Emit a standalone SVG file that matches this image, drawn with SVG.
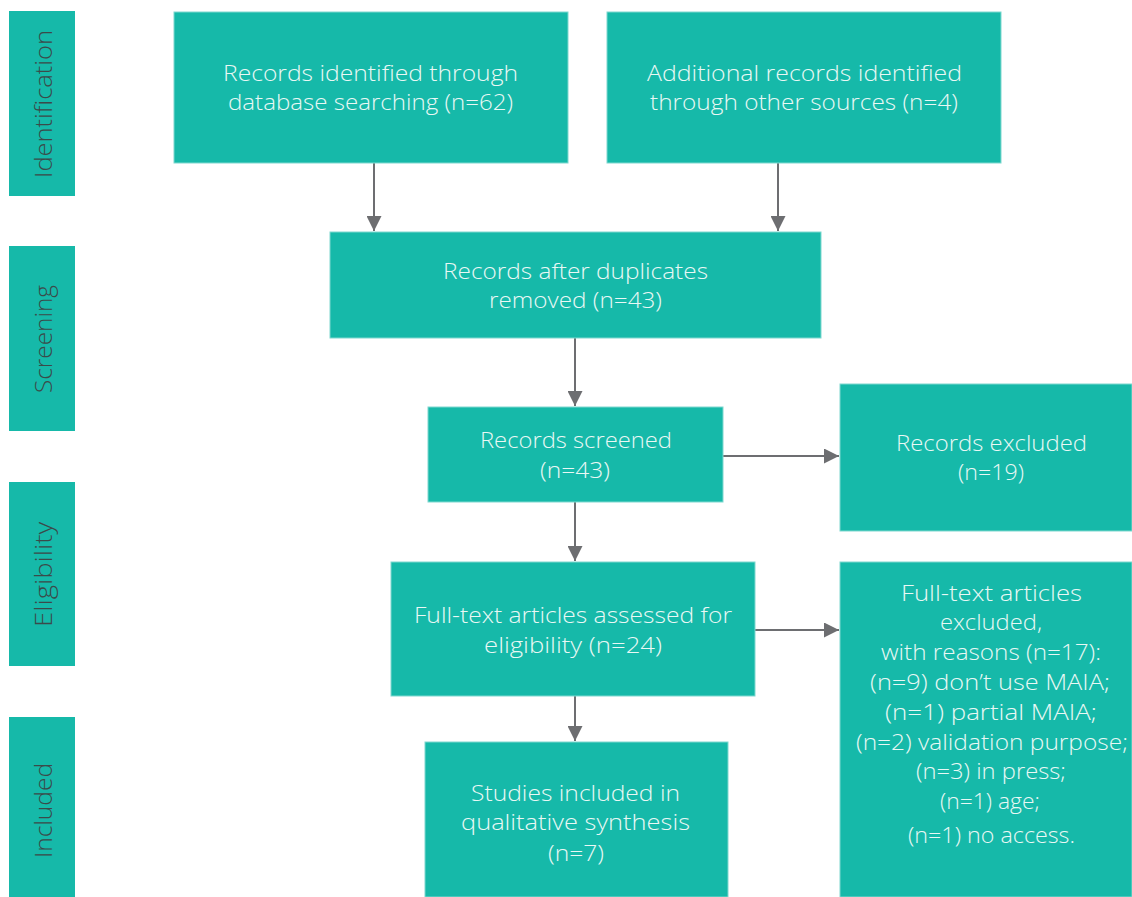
<svg xmlns="http://www.w3.org/2000/svg" width="1132" height="897" viewBox="0 0 1132 897">
<defs>
<style>
.box{fill:#16b9a9;stroke:#7fd8cf;stroke-width:1}
.lab{fill:#16b9a9}
.t{font-family:"Open Sans",Roboto,"Liberation Sans",sans-serif;font-weight:300;font-size:22px;fill:#e9f8f5;text-anchor:middle}
.v{font-family:"Open Sans",Roboto,"Liberation Sans",sans-serif;font-weight:300;font-size:23px;fill:#3b4a4a;text-anchor:middle}
.c{stroke:#6d6e71;stroke-width:2;fill:none;marker-end:url(#ah)}
</style>
<marker id="ah" viewBox="0 0 10 10" refX="10" refY="5" markerWidth="7.5" markerHeight="7.5" markerUnits="strokeWidth" orient="auto">
<path d="M0,0 L10,5 L0,10 z" fill="#6d6e71"/>
</marker>
</defs>
<rect width="1132" height="897" fill="#ffffff"/>
<g id="stage-identification"><rect class="lab" x="9" y="11" width="66" height="185"/><text class="v" transform="translate(52,104) rotate(-90)" textLength="148" lengthAdjust="spacingAndGlyphs">Identification</text></g>
<g id="stage-screening"><rect class="lab" x="9" y="246" width="66" height="185"/><text class="v" transform="translate(52,339) rotate(-90)" textLength="108" lengthAdjust="spacingAndGlyphs">Screening</text></g>
<g id="stage-eligibility"><rect class="lab" x="9" y="482" width="66" height="184"/><text class="v" transform="translate(52,574.5) rotate(-90)" textLength="105" lengthAdjust="spacingAndGlyphs">Eligibility</text></g>
<g id="stage-included"><rect class="lab" x="9" y="717" width="66" height="180"/><text class="v" transform="translate(52,810.5) rotate(-90)" textLength="95" lengthAdjust="spacingAndGlyphs">Included</text></g>
<g id="connectors">
<line class="c" x1="374" y1="163" x2="374" y2="231"/>
<line class="c" x1="778" y1="163" x2="778" y2="231"/>
<line class="c" x1="575" y1="338" x2="575" y2="406"/>
<line class="c" x1="723" y1="456" x2="839" y2="456"/>
<line class="c" x1="575" y1="502" x2="575" y2="561"/>
<line class="c" x1="755" y1="630" x2="839" y2="630"/>
<line class="c" x1="575" y1="696" x2="575" y2="741"/>
</g>
<g id="n1"><rect class="box" x="174" y="12" width="394" height="151"/><text class="t" x="370.5" y="81" textLength="295" lengthAdjust="spacingAndGlyphs">Records identified through</text><text class="t" x="370.5" y="110" textLength="285" lengthAdjust="spacingAndGlyphs">database searching (n=62)</text></g>
<g id="n2"><rect class="box" x="607" y="12" width="394" height="151"/><text class="t" x="804.5" y="81" textLength="315" lengthAdjust="spacingAndGlyphs">Additional records identified</text><text class="t" x="804" y="110" textLength="308" lengthAdjust="spacingAndGlyphs">through other sources (n=4)</text></g>
<g id="n3"><rect class="box" x="330" y="232" width="491" height="106"/><text class="t" x="575.5" y="279" textLength="265" lengthAdjust="spacingAndGlyphs">Records after duplicates</text><text class="t" x="575.5" y="308" textLength="173" lengthAdjust="spacingAndGlyphs">removed (n=43)</text></g>
<g id="n4"><rect class="box" x="428" y="407" width="295" height="95"/><text class="t" x="576" y="448" textLength="192" lengthAdjust="spacingAndGlyphs">Records screened</text><text class="t" x="575" y="478" textLength="70" lengthAdjust="spacingAndGlyphs">(n=43)</text></g>
<g id="n5"><rect class="box" x="840" y="384" width="292" height="147"/><text class="t" x="991.5" y="451" textLength="191" lengthAdjust="spacingAndGlyphs">Records excluded</text><text class="t" x="991" y="480" textLength="66" lengthAdjust="spacingAndGlyphs">(n=19)</text></g>
<g id="n6"><rect class="box" x="391" y="562" width="364" height="134"/><text class="t" x="573" y="623" textLength="318" lengthAdjust="spacingAndGlyphs">Full-text articles assessed for</text><text class="t" x="573" y="653" textLength="178" lengthAdjust="spacingAndGlyphs">eligibility (n=24)</text></g>
<g id="n7"><rect class="box" x="840" y="562" width="292" height="335"/>
<text class="t" x="991.5" y="601" textLength="181" lengthAdjust="spacingAndGlyphs">Full-text articles</text>
<text class="t" x="991" y="630" textLength="102" lengthAdjust="spacingAndGlyphs">excluded,</text>
<text class="t" x="991" y="660" textLength="220" lengthAdjust="spacingAndGlyphs">with reasons (n=17):</text>
<text class="t" x="990" y="690" textLength="240" lengthAdjust="spacingAndGlyphs">(n=9) don’t use MAIA;</text>
<text class="t" x="991" y="720" textLength="212" lengthAdjust="spacingAndGlyphs">(n=1) partial MAIA;</text>
<text class="t" x="992" y="750" textLength="272" lengthAdjust="spacingAndGlyphs">(n=2) validation purpose;</text>
<text class="t" x="991" y="779" textLength="150" lengthAdjust="spacingAndGlyphs">(n=3) in press;</text>
<text class="t" x="990" y="809" textLength="100" lengthAdjust="spacingAndGlyphs">(n=1) age;</text>
<text class="t" x="991.5" y="843" textLength="167" lengthAdjust="spacingAndGlyphs">(n=1) no access.</text>
</g>
<g id="n8"><rect class="box" x="425" y="742" width="303" height="155"/><text class="t" x="575.5" y="801" textLength="209" lengthAdjust="spacingAndGlyphs">Studies included in</text><text class="t" x="575.5" y="830" textLength="229" lengthAdjust="spacingAndGlyphs">qualitative synthesis</text><text class="t" x="576" y="861" textLength="56" lengthAdjust="spacingAndGlyphs">(n=7)</text></g>
</svg>
